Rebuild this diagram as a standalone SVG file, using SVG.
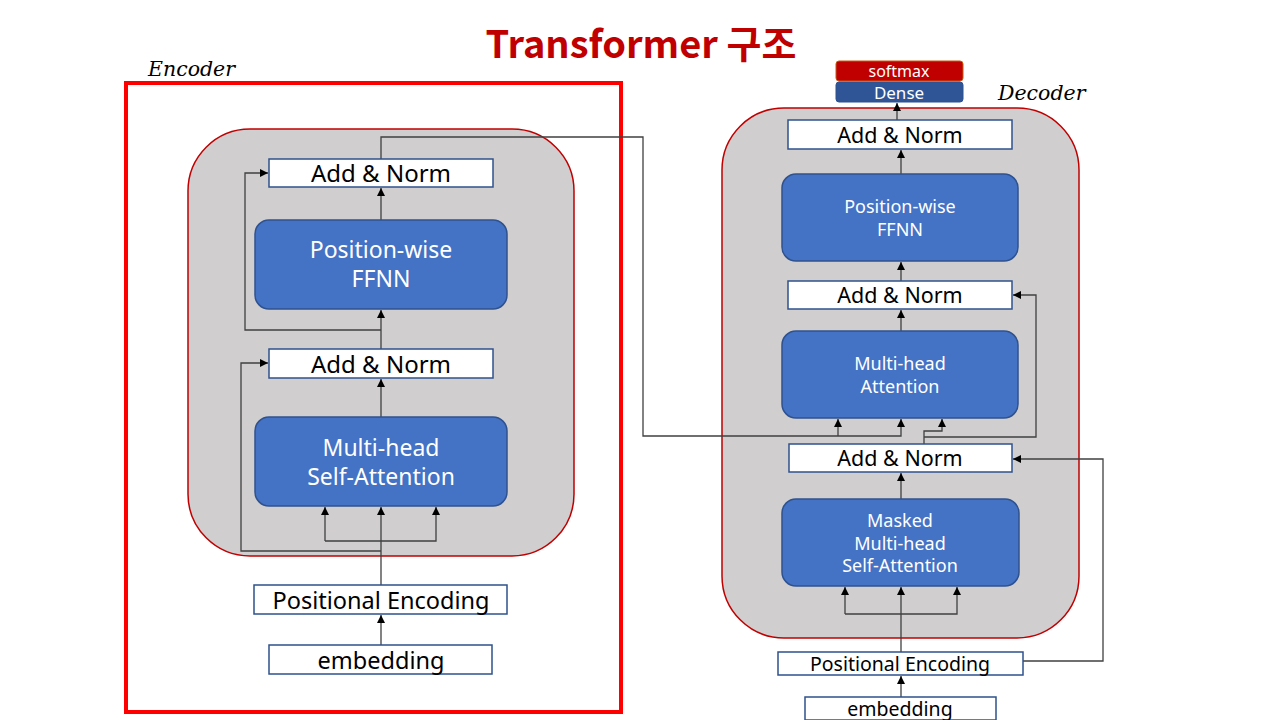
<svg xmlns="http://www.w3.org/2000/svg" width="1280" height="720" viewBox="0 0 1280 720">
<defs>
<marker id="ah" viewBox="0 0 10 10" refX="10" refY="5" markerWidth="8" markerHeight="8" markerUnits="userSpaceOnUse" orient="auto">
<path d="M0,0 L10,5 L0,10 Z" fill="#000"/>
</marker>
</defs>
<style>
.frame{fill:#D0CECE;stroke:#C00000;stroke-width:1.5}
.wbox{fill:#fff;stroke:#2F528F;stroke-width:1.5}
.bbox{fill:#4472C4;stroke:#2F528F;stroke-width:1.5}
.t{font-family:"Noto Sans","Noto Sans CJK KR",sans-serif;text-anchor:middle;fill:#000}
.w{fill:#fff}
.lbl{font-family:"DejaVu Serif","Liberation Serif",serif;font-style:italic;fill:#000}
.c{fill:none;stroke:#404040;stroke-width:1.3}
.a{marker-end:url(#ah)}
</style>
<rect width="1280" height="720" fill="#fff"/>
<text x="641" y="58" font-family="'Noto Sans CJK KR','Noto Sans',sans-serif" font-weight="bold" font-size="38" fill="#C00000" text-anchor="middle">Transformer 구조</text>

<g id="encoder-frame">
<text class="lbl" x="148" y="76" font-size="20.5">Encoder</text>
<rect x="126" y="83" width="495" height="629" fill="none" stroke="#FF0000" stroke-width="4"/>
<rect class="frame" x="188" y="129" width="386" height="427" rx="62"/>
</g>
<g id="decoder-frame">
<text class="lbl" x="998" y="100" font-size="20.5">Decoder</text>
<rect class="frame" x="722" y="108" width="357" height="530" rx="62"/>
</g>

<g id="connectors">
<!-- encoder -->
<path class="c a" d="M381,645 V615"/>
<path class="c a" d="M381,585 V507"/>
<path class="c a" d="M325,541 H436 V507"/>
<path class="c a" d="M325,541 V507"/>
<path class="c a" d="M381,551 H241 V363 H268"/>
<path class="c a" d="M381,417 V379"/>
<path class="c a" d="M381,349 V310"/>
<path class="c a" d="M381,330 H245 V173 H268"/>
<path class="c a" d="M381,220 V188"/>
<path class="c a" d="M381,159 V137 H643 V436 H901 V419"/>
<path class="c a" d="M838,436 V419"/>
<!-- decoder -->
<path class="c a" d="M901,697 V676"/>
<path class="c a" d="M901,652 V587"/>
<path class="c a" d="M845,614 H957 V587"/>
<path class="c a" d="M845,614 V587"/>
<path class="c a" d="M1023,661 H1103 V459 H1013"/>
<path class="c a" d="M901,499 V473"/>
<path class="c a" d="M924,444 V431 H942 V419"/>
<path class="c a" d="M924,437 H1036 V295 H1013"/>
<path class="c a" d="M901,331 V310"/>
<path class="c a" d="M901,281 V262"/>
<path class="c a" d="M901,174 V150"/>
<path class="c a" d="M897,120 V103"/>
</g>

<g id="enc-addnorm2">
<rect class="wbox" x="269" y="159" width="224" height="28"/>
<text class="t" x="381" y="182" font-size="24">Add &amp; Norm</text>
</g>
<g id="enc-ffnn">
<rect class="bbox" x="255" y="220" width="252" height="89" rx="14"/>
<text class="t w" x="381" y="258" font-size="23">Position-wise</text>
<text class="t w" x="381" y="287" font-size="23">FFNN</text>
</g>
<g id="enc-addnorm1">
<rect class="wbox" x="269" y="349" width="224" height="29"/>
<text class="t" x="381" y="373" font-size="24">Add &amp; Norm</text>
</g>
<g id="enc-attn">
<rect class="bbox" x="255" y="417" width="252" height="89" rx="14"/>
<text class="t w" x="381" y="456" font-size="23">Multi-head</text>
<text class="t w" x="381" y="485" font-size="23">Self-Attention</text>
</g>
<g id="enc-pe">
<rect class="wbox" x="254" y="585" width="253" height="29"/>
<text class="t" x="381" y="609" font-size="23.5">Positional Encoding</text>
</g>
<g id="enc-emb">
<rect class="wbox" x="269" y="645" width="223" height="29"/>
<text class="t" x="381" y="669" font-size="23.5">embedding</text>
</g>

<g id="dec-softmax">
<rect x="836" y="61" width="127" height="20" rx="3" fill="#C00000" stroke="#C55A11" stroke-width="1"/>
<text class="t w" x="899" y="76.5" font-size="16">softmax</text>
</g>
<g id="dec-dense">
<rect x="836" y="82" width="127" height="20" rx="3" fill="#2F5597" stroke="#2F528F" stroke-width="1"/>
<text class="t w" x="899" y="98.5" font-size="17">Dense</text>
</g>
<g id="dec-addnorm3">
<rect class="wbox" x="788" y="120" width="224" height="29"/>
<text class="t" x="900" y="143" font-size="21.5">Add &amp; Norm</text>
</g>
<g id="dec-ffnn">
<rect class="bbox" x="782" y="174" width="236" height="87" rx="14"/>
<text class="t w" x="900" y="213" font-size="18">Position-wise</text>
<text class="t w" x="900" y="236" font-size="18">FFNN</text>
</g>
<g id="dec-addnorm2">
<rect class="wbox" x="788" y="281" width="224" height="28"/>
<text class="t" x="900" y="303" font-size="21.5">Add &amp; Norm</text>
</g>
<g id="dec-attn">
<rect class="bbox" x="782" y="331" width="236" height="87" rx="14"/>
<text class="t w" x="900" y="370" font-size="18">Multi-head</text>
<text class="t w" x="900" y="393" font-size="18">Attention</text>
</g>
<g id="dec-addnorm1">
<rect class="wbox" x="789" y="444" width="223" height="28"/>
<text class="t" x="900" y="466" font-size="21.5">Add &amp; Norm</text>
</g>
<g id="dec-masked">
<rect class="bbox" x="782" y="499" width="237" height="87" rx="14"/>
<text class="t w" x="900" y="527" font-size="18">Masked</text>
<text class="t w" x="900" y="550" font-size="18">Multi-head</text>
<text class="t w" x="900" y="572" font-size="18">Self-Attention</text>
</g>
<g id="dec-pe">
<rect class="wbox" x="778" y="652" width="245" height="23"/>
<text class="t" x="900" y="671" font-size="19.5">Positional Encoding</text>
</g>
<g id="dec-emb">
<rect class="wbox" x="805" y="697" width="191" height="23"/>
<text class="t" x="900" y="716" font-size="19.5">embedding</text>
</g>
</svg>
